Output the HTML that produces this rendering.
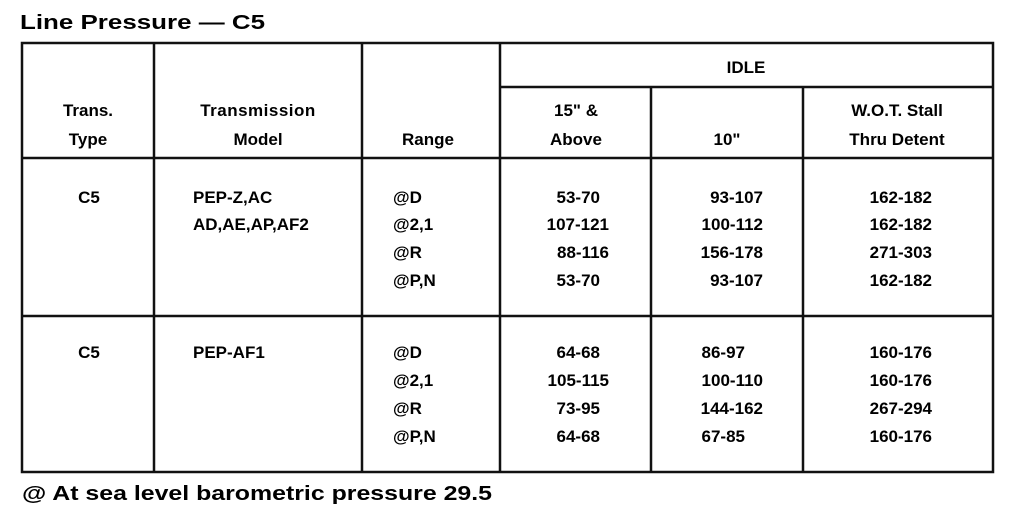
<!DOCTYPE html>
<html><head><meta charset="utf-8"><style>
html,body{margin:0;padding:0;background:#fff;}
svg{display:block;}
text{font-family:"Liberation Sans",Arial,sans-serif;font-weight:bold;fill:#000;}
</style></head><body>
<svg width="1024" height="520" viewBox="0 0 1024 520" xmlns="http://www.w3.org/2000/svg">
<text x="20" y="29" font-size="20" textLength="245" lengthAdjust="spacingAndGlyphs">Line Pressure — C5</text>
<g stroke="#111" stroke-width="2.5" fill="none">
<rect x="22" y="43" width="971" height="429"/>
<line x1="154" y1="43" x2="154" y2="472"/>
<line x1="362" y1="43" x2="362" y2="472"/>
<line x1="500" y1="43" x2="500" y2="472"/>
<line x1="651" y1="87" x2="651" y2="472"/>
<line x1="803" y1="87" x2="803" y2="472"/>
<line x1="500" y1="87" x2="993" y2="87"/>
<line x1="22" y1="158" x2="993" y2="158"/>
<line x1="22" y1="316" x2="993" y2="316"/>
</g>
<g font-size="17" text-anchor="middle">
<text x="746" y="73">IDLE</text>
<text x="88" y="116">Trans.</text>
<text x="88" y="145">Type</text>
<text x="258" y="116" letter-spacing="0.5">Transmission</text>
<text x="258" y="145">Model</text>
<text x="428" y="145">Range</text>
<text x="576" y="116">15" &amp;</text>
<text x="576" y="145">Above</text>
<text x="727" y="145">10"</text>
<text x="897" y="116">W.O.T. Stall</text>
<text x="897" y="145">Thru Detent</text>
<text x="89" y="203">C5</text>
<text x="89" y="358">C5</text>
</g>
<g font-size="17">
<text x="193" y="203">PEP-Z,AC</text>
<text x="193" y="230">AD,AE,AP,AF2</text>
<text x="193" y="358">PEP-AF1</text>
<text x="393" y="203">@D</text><text x="393" y="230">@2,1</text><text x="393" y="258">@R</text><text x="393" y="286">@P,N</text>
<text x="393" y="358">@D</text><text x="393" y="386">@2,1</text><text x="393" y="414">@R</text><text x="393" y="442">@P,N</text>
</g>
<g font-size="17" text-anchor="end">
<text x="600" y="203">53-70</text><text x="609" y="230">107-121</text><text x="609" y="258">88-116</text><text x="600" y="286">53-70</text>
<text x="763" y="203">93-107</text><text x="763" y="230">100-112</text><text x="763" y="258">156-178</text><text x="763" y="286">93-107</text>
<text x="932" y="203">162-182</text><text x="932" y="230">162-182</text><text x="932" y="258">271-303</text><text x="932" y="286">162-182</text>
<text x="600" y="358">64-68</text><text x="609" y="386">105-115</text><text x="600" y="414">73-95</text><text x="600" y="442">64-68</text>
<text x="745" y="358">86-97</text><text x="763" y="386">100-110</text><text x="763" y="414">144-162</text><text x="745" y="442">67-85</text>
<text x="932" y="358">160-176</text><text x="932" y="386">160-176</text><text x="932" y="414">267-294</text><text x="932" y="442">160-176</text>
</g>
<text x="22" y="500" font-size="20" textLength="470" lengthAdjust="spacingAndGlyphs">@ At sea level barometric pressure 29.5</text>
</svg>
</body></html>
